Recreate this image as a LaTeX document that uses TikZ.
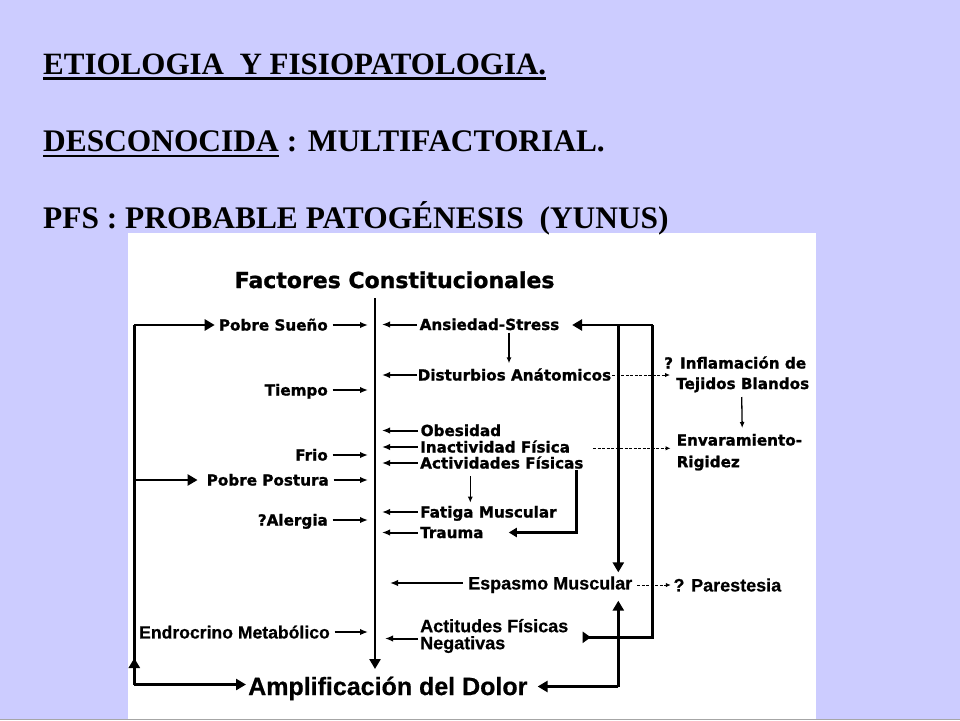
\documentclass[tikz,border=0pt]{standalone}
\usepackage{fontspec}
\setmainfont{Liberation Serif}
\newfontfamily\dfont{DejaVu Sans}[BoldFeatures={FakeBold=1.2}]
\newfontfamily\afont{Liberation Sans}[BoldFeatures={FakeBold=0.6}]
\usetikzlibrary{arrows.meta,calc}
\definecolor{bgc}{RGB}{204,204,255}
\begin{document}
\begin{tikzpicture}[x=1pt,y=-1pt,
 ttl/.style={font=\bfseries\fontsize{31}{36}\selectfont, inner sep=0pt, anchor=base west},
 ttlb/.style={ttl, font=\bfseries\fontsize{31.4}{36}\selectfont},
 dv/.style={font=\dfont\bfseries\fontsize{15.2}{17}\selectfont, inner sep=0pt, text height=11pt, text depth=0pt},
 av/.style={font=\afont\bfseries\fontsize{18}{18}\selectfont, inner sep=0pt, text height=12.9pt, text depth=0pt},
 sarr/.style={line width=2pt, -{Latex[length=8pt,width=6.5pt]}},
 barr/.style={line width=2.8pt, -{Triangle[length=10pt,width=11pt]}},
 marr/.style={line width=2.8pt, -{Triangle[length=8pt,width=9pt]}},
 bline/.style={line width=2.8pt},
 tarr/.style={line width=1.3pt, -{Latex[length=6pt,width=5pt]}},
 darr/.style={line width=1pt, dash pattern=on 3pt off 1.5pt, -{Latex[length=5pt,width=4.5pt]}},
]
\useasboundingbox (0,0) rectangle (960,720);
\fill[bgc] (0,0) rectangle (960,720);
\fill[white] (128,233) rectangle (816,718.5);
\fill[black!35] (0,718.5) rectangle (960,720);

% titles
\node[ttl] (t1) at (43,74) {ETIOLOGIA\ \ Y FISIOPATOLOGIA.};
\draw[line width=2.4pt] ([yshift=-4.5pt]t1.base west) -- ([yshift=-4.5pt]t1.base east);
\node[ttlb] (t2) at (43,151.5) {DESCONOCIDA};
\node[ttlb] (t2b) at (t2.base east) {\ : MULTIFACTORIAL.};
\draw[line width=2.4pt] ([yshift=-4.5pt]t2.base west) -- ([yshift=-4.5pt]t2.base east);
\node[ttlb] (t3) at (43,228) {PFS : PROBABLE PATOG\'ENESIS\ \ (YUNUS)};

% header
\node[dv, font=\dfont\bfseries\fontsize{22}{24}\selectfont, text height=16pt, anchor=west] (fc) at (234.5,280) {Factores Constitucionales};

% main vertical
\coordinate (mtop) at (375,298);
\coordinate (mbot) at (375,669);
\coordinate (mL) at (368,0);
\coordinate (mR) at (382,0);
\coordinate (mR2) at (390,0);
\coordinate (mR3) at (385,0);

% amplification
\node[av, font=\afont\bfseries\fontsize{25}{27}\selectfont, text height=18pt, anchor=west] (amp) at (248,686) {Amplificación del Dolor};
\draw[barr] (mtop) -- (mbot);

% left column
\node[dv, anchor=east] (ps) at (328,325) {Pobre Sueño};
\node[dv, anchor=east] (ti) at (328,390) {Tiempo};
\node[dv, anchor=east] (fr) at (328,455) {Frio};
\node[dv, anchor=east] (pp) at (329,480) {Pobre Postura};
\node[dv, anchor=east] (al) at (328,520) {?Alergia};
\node[av, font=\afont\bfseries\fontsize{17.6}{18}\selectfont, anchor=east] (em) at (330,632) {Endrocrino Metabólico};
\foreach \n in {ps,ti,fr,pp,al,em}
  \draw[sarr] ([xshift=4.5pt]\n.east) -- (\n.east -| mL);

% right column
\node[dv, anchor=west] (as) at (419.5,324.5) {Ansiedad-Stress};
\node[dv, anchor=west] (da) at (417.5,375) {Disturbios Anátomicos};
\node[dv, anchor=west] (ob) at (420.5,430.5) {Obesidad};
\node[dv, anchor=west] (ia) at (420,447) {Inactividad Física};
\node[dv, anchor=west] (af) at (420,463) {Actividades Físicas};
\node[dv, anchor=west] (fm) at (420,512) {Fatiga Muscular};
\node[dv, anchor=west] (tr) at (420,532.5) {Trauma};
\node[av, anchor=west] (es) at (468,583) {Espasmo Muscular};
\node[font=\afont\bfseries\fontsize{18}{17}\selectfont, inner sep=0pt, align=left, anchor=west] (an) at (420,636) {Actitudes Físicas\\Negativas};
\foreach \n in {as,ob,ia,af,fm,tr}
  \draw[sarr] ([xshift=-2.5pt]\n.west) -- (\n.west -| mR);
\draw[sarr] ([xshift=-0.5pt]da.west) -- (da.west -| mR);
\draw[sarr] ([xshift=-5pt]es.west) -- (es.west -| mR2);
\draw[sarr] ($(an.west)+(-2,2.5)$) -- ($(an.west -| mR3)+(0,2.5)$);

% far right
\node[dv, anchor=west] (iq) at (664,363) {? Inflamación de};
\node[dv, anchor=west] (tb) at (676,383.5) {Tejidos Blandos};
\node[dv, anchor=west] (en) at (676.5,440) {Envaramiento-};
\node[dv, anchor=west] (rg) at (676.5,461.7) {Rigidez};
\node[av, anchor=west] (pa) at (673.3,585) {? Parestesia};

% thin arrows
\draw[tarr] ($(as.west)+(89.5,8.2)$) -- ($(da.west)+(91.5,-11.7)$);
\draw[tarr] ($(af.west)+(50.3,13)$) -- ($(fm.west)+(50.3,-9.3)$);
\draw[tarr] ($(tb.west)+(65.7,13.5)$) -- ($(en.west)+(65.7,-12)$);

% dotted arrows
\draw[darr] ([xshift=1pt]da.east) -- ($(iq.west |- da.east)+(6,0)$);
\draw[darr] ($(ia.east)+(23,1.3)$) -- ($(en.west |- ia.east)+(-6,1.3)$);
\draw[darr] ($(es.east)+(5,2)$) -- ($(pa.west)+(-2.5,0)$);

% actividades -> trauma
\draw[marr] ($(af.west)+(156.7,7)$) |- ($(tr.east)+(25,0)$);

% right loop
\coordinate (rc) at (652.7,325);
\coordinate (rc2) at (618.3,325);
\coordinate (anr) at (582.7,637.3);
\draw[barr] (rc) -- ($(as.east)+(12.6,0.5)$);
\draw[bline, {Triangle[reversed,length=8pt,width=11pt]}-] (anr) -| (rc);
\draw[barr] (rc2) -- ($(rc2 |- es.north)+(0,-4)$);
\coordinate (bc) at (618.3,686.5);
\draw[barr] (bc) -- ($(rc2 |- es.south)+(0,11)$);
\draw[barr] (bc) -- ($(amp.east)+(10,0.5)$);

% left loop
\coordinate (lt) at (134.3,325);
\coordinate (lb) at (134.3,684.5);
\draw[bline] (lt) -- (lb);
\draw[barr] (lt) -- ($(ps.west)+(-4,0)$);
\draw[barr] (lt |- pp.west) -- ($(pp.west)+(-9,0)$);
\draw[barr] (lb) -- ($(amp.west)+(-2,-1.5)$);
\draw[barr] (lb) -- ($(lb)+(0,-26.5)$);
\end{tikzpicture}
\end{document}
